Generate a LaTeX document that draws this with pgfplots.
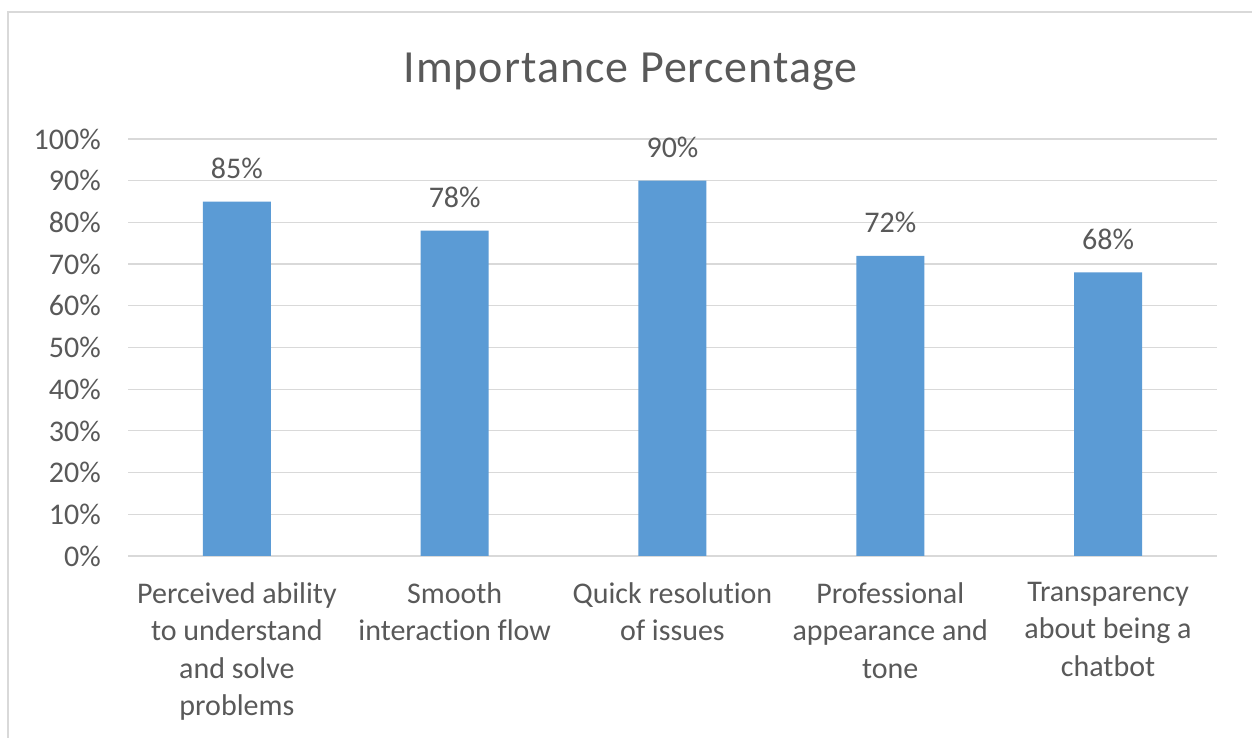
\documentclass[border=0pt]{standalone}
\usepackage{fontspec}
\setmainfont{Carlito}[Ligatures=NoCommon]
\usepackage{pgfplots}
\pgfplotsset{compat=1.18}
\definecolor{barblue}{HTML}{5B9BD5}
\definecolor{txtgray}{HTML}{595959}
\definecolor{gridgray}{HTML}{D9D9D9}
\begin{document}
\begin{tikzpicture}[x=1pt,y=1pt]
\useasboundingbox (0,0) rectangle (1252,738);
\fill[white] (0,0) rectangle (1252,738);
\draw[gridgray, line width=2.2pt] (8,0) -- (8,726) -- (1252,726);
\begin{axis}[
  at={(128pt,182pt)}, anchor=south west,
  scale only axis, width=1089pt, height=417pt,
  xmin=-0.5, xmax=4.5, ymin=0, ymax=100,
  enlargelimits=false,
  xtick={0,1,2,3,4},
  xticklabels={{Perceived ability\\to understand\\and solve\\problems},
               {Smooth\\interaction flow},
               {Quick resolution\\of issues},
               {Professional\\appearance and\\tone},
               {Transparency\\about being a\\chatbot}},
  ytick={0,10,...,100},
  yticklabel={\pgfmathprintnumber{\tick}\%},
  /pgf/number format/assume math mode=true,
  major tick length=0pt,
  axis x line*=bottom, axis y line*=left,
  x axis line style={draw=gridgray, line width=1.2pt, -},
  y axis line style={draw=none},
  ymajorgrids, grid style={draw=gridgray, line width=1.2pt},
  yticklabel style={font=\fontsize{30}{36}\selectfont, text=txtgray, anchor=east, inner sep=0pt, xshift=-27pt},
  xticklabel style={font=\fontsize{30}{37.5}\selectfont, text=txtgray, align=center, anchor=north, inner sep=0pt, yshift=-26pt},
  clip=false,
]
\addplot[ybar, bar width=68pt, fill=barblue, draw=none,
  nodes near coords={\pgfmathprintnumber{\pgfplotspointmeta}\%},
  nodes near coords style={font=\fontsize{30}{36}\selectfont, text=txtgray, anchor=base, inner sep=0pt, yshift=23pt, /pgf/number format/assume math mode=true},
] coordinates {(0,85) (1,78) (2,90) (3,72) (4,68)};
\end{axis}
\node[anchor=base, text=txtgray, font=\fontsize{46}{52}\selectfont\addfontfeatures{LetterSpace=2.2}, inner sep=0pt] at (630.5,655) {Importance Percentage};
\end{tikzpicture}
\end{document}
